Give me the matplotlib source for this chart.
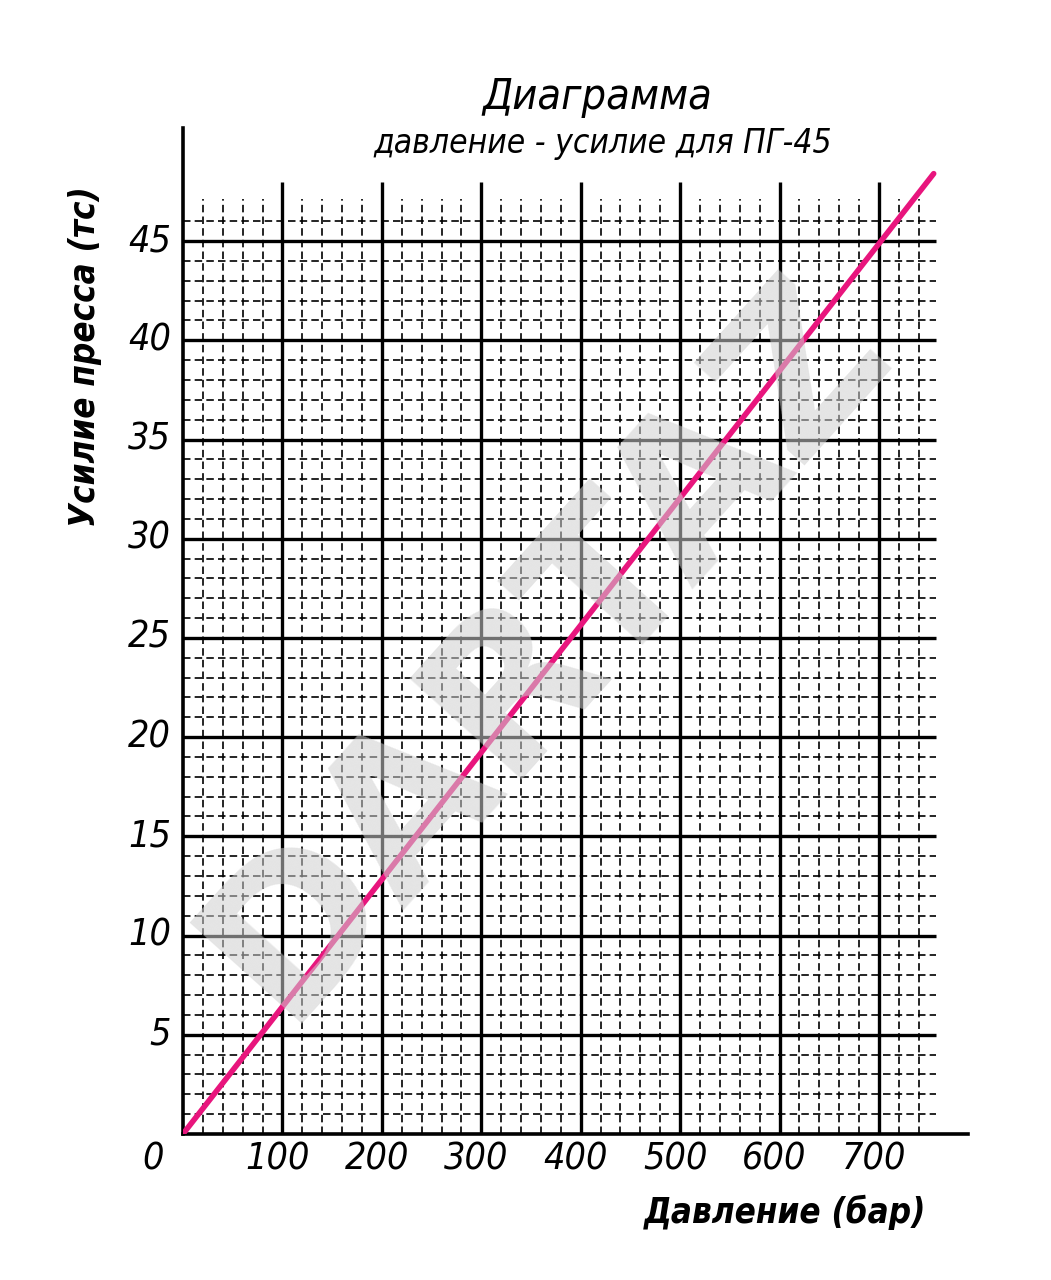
import matplotlib
matplotlib.use("Agg")
import matplotlib.pyplot as plt
import numpy as np

# data
pressure = [0, 755]      # бар
force = [0, 48.4]        # тс

x_major = [100, 200, 300, 400, 500, 600, 700]
x_minor = [v for v in range(20, 760, 20) if v % 100 != 0]
y_major = [5, 10, 15, 20, 25, 30, 35, 40, 45]
y_minor = [v for v in range(1, 47) if v % 5 != 0]

title = "Диаграмма"
subtitle = "давление - усилие для ПГ-45"
xlabel = "Давление (бар)"
ylabel = "Усилие пресса (тс)"
watermark = "DARTAZ"

plt.rcParams['font.family'] = ['DejaVu Sans']

fig = plt.figure(figsize=(10.51, 12.8), dpi=100)
ax = fig.add_axes([0.1741, 0.1141, 0.7474, 0.7859])
ax.set_xlim(0, 790)
ax.set_ylim(0, 50.7)

# grid
ax.hlines(y_minor, 0, 757, colors='black', linewidth=1.2, linestyles=(0, (4.5, 2.5)), zorder=1)
ax.vlines(x_minor, 0, 47.1, colors='black', linewidth=1.2, linestyles=(0, (4.5, 2.5)), zorder=1)
ax.hlines(y_major, 0, 757, colors='black', linewidth=2.4, zorder=2)
ax.vlines(x_major, 0, 48.0, colors='black', linewidth=2.4, zorder=2)

# the curve
ax.plot(pressure, force, color='#e8157d', linewidth=4.0, solid_capstyle='round', zorder=3)

for s in ['top', 'right']:
    ax.spines[s].set_visible(False)
for s in ['left', 'bottom']:
    ax.spines[s].set_linewidth(2.6)
ax.set_xticks([])
ax.set_yticks([])

tick_font = dict(fontstyle='italic', fontstretch='condensed', fontsize=27, color='black')
for v in x_major:
    ax.text(v - 5, -1.3, str(v), ha='center', va='center', **tick_font)
for v in y_major:
    ax.text(-12, v, str(v), ha='right', va='center', **tick_font)
ax.text(-30, -1.3, "0", ha='center', va='center', **tick_font)

fig.text(0.568, 0.924, title, ha='center', va='center', fontstyle='italic',
         fontstretch='condensed', fontsize=31)
fig.text(0.573, 0.888, subtitle, ha='center', va='center', fontstyle='italic',
         fontstretch='condensed', fontsize=24)
fig.text(0.747, 0.053, xlabel, ha='center', va='center', fontstyle='italic',
         fontweight='bold', fontstretch='condensed', fontsize=25)
fig.text(0.081, 0.721, ylabel, ha='center', va='center', rotation=90, fontstyle='italic',
         fontweight='bold', fontstretch='condensed', fontsize=25)

# watermark on top
ax.text(365, 24.5, watermark, ha='center', va='center', rotation=48, rotation_mode='anchor',
        fontsize=148, fontweight='bold', color='#cfcfcf', alpha=0.55, zorder=5)

fig.savefig("out.png", dpi=100, facecolor='white')
